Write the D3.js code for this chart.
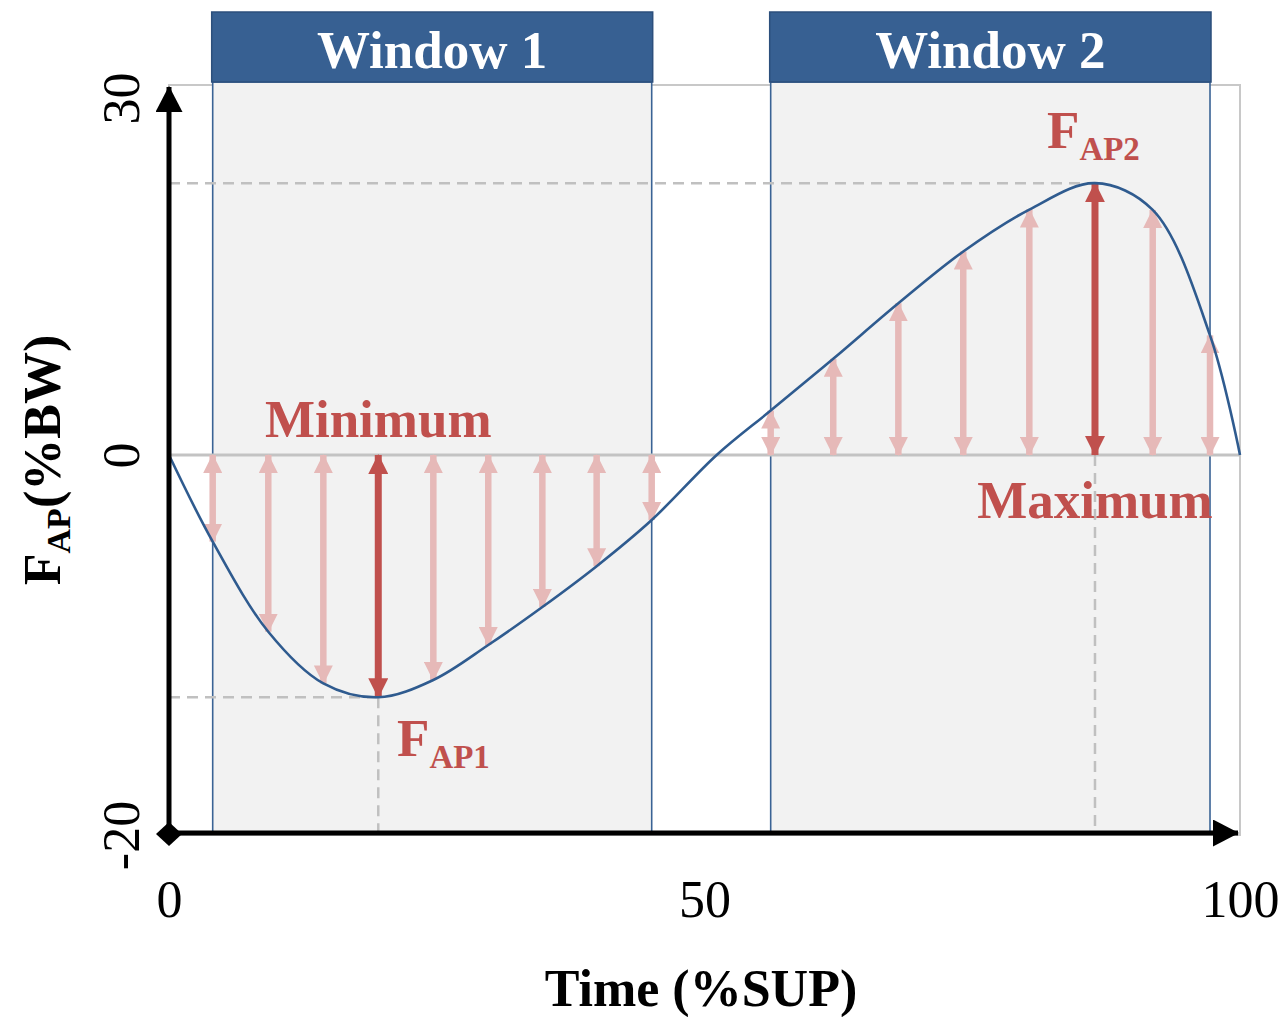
<!DOCTYPE html>
<html>
    <head>
        <meta charset="utf-8">
        <title>FAP windows</title>
        <script type="text/javascript" src="https://d3js.org/d3.v7.min.js"></script>
        <style>
            body {margin: 0; background: #fff;}
            text {font-family: "Liberation Serif", "Times New Roman", serif;}
        </style>
    </head>
    <body>
        <script>
            // courbe FAP (temps en %SUP, force en %BW)
            var curveTime = [0, 4.08, 9.27, 14.41, 19.54, 24.68, 29.81, 34.86, 39.93, 45.07, 51.14, 56.18, 62.02, 68.10, 74.16, 80.33, 86.46, 91.85, 97.2, 100];
            var curveForce = [0, -4.56, -9.3, -12.02, -12.75, -11.84, -10.0, -8.0, -5.85, -3.42, 0, 3.6, 7.8, 12.3, 16.5, 19.9, 22.04, 19.87, 9.7, 0];

            // fleches (indices dans la courbe) et fleches des pics
            var arrowIdx = [1, 2, 3, 4, 5, 6, 7, 8, 9, 11, 12, 13, 14, 15, 16, 17, 18];
            var peakIdx = [4, 16];

            var windowNames = ["Window 1", "Window 2"];
            var windowStart = [4.08, 56.18];
            var windowEnd = [45.07, 97.2];

            var xTicks = [0, 50, 100];
            var yTicks = [-20, 0, 30];

            var width = 1285, height = 1017;

            var svg = d3.select("body").append("svg")
                .attr("width", width)
                .attr("height", height);

            var x = d3.scaleLinear().domain([0, 100]).range([169, 1240]);
            // axe schematique : 0 -> -20 n'a pas la meme echelle que 0 -> 30
            var y = d3.scaleLinear().domain([-20, 0, 30]).range([835, 455, 85]);

            var defs = svg.append("defs");
            function marker(id, color, w, l) {
                defs.append("marker")
                    .attr("id", id)
                    .attr("markerUnits", "userSpaceOnUse")
                    .attr("viewBox", "0 0 " + l + " " + w)
                    .attr("refX", l - 1)
                    .attr("refY", w / 2)
                    .attr("markerWidth", l)
                    .attr("markerHeight", w)
                    .attr("orient", "auto-start-reverse")
                    .append("path")
                    .attr("d", "M0,0L" + l + "," + (w / 2) + "L0," + w + "Z")
                    .attr("fill", color);
            }
            marker("headLight", "#e6b9b8", 19, 19);
            marker("headDark", "#c0504d", 20, 20);
            marker("axisHead", "#000", 27, 26);

            // cadre gris
            svg.append("rect")
                .attr("x", x(0)).attr("y", y(30))
                .attr("width", x(100) - x(0)).attr("height", y(-20) - y(30))
                .attr("fill", "none")
                .attr("stroke", "#c8c8c8")
                .attr("stroke-width", 2);

            // fenetres
            windowNames.forEach(function(name, i) {
                var x0 = x(windowStart[i]), x1 = x(windowEnd[i]);
                svg.append("rect")
                    .attr("x", x0).attr("y", 82)
                    .attr("width", x1 - x0).attr("height", y(-20) - 3 - 82)
                    .attr("fill", "#f2f2f2")
                    .attr("stroke", "#3a6395")
                    .attr("stroke-width", 1.6);
                svg.append("rect")
                    .attr("x", x0 - 1).attr("y", 12)
                    .attr("width", x1 - x0 + 2).attr("height", 70)
                    .attr("fill", "#376092")
                    .attr("stroke", "#2c4f7c")
                    .attr("stroke-width", 1.5);
                svg.append("text")
                    .attr("x", (x0 + x1) / 2).attr("y", 68)
                    .attr("text-anchor", "middle")
                    .attr("fill", "#fff")
                    .attr("font-weight", "bold")
                    .attr("font-size", "53px")
                    .text(name);
            });

            // ligne zero
            svg.append("line")
                .attr("x1", x(0)).attr("x2", x(100))
                .attr("y1", y(0)).attr("y2", y(0))
                .attr("stroke", "#c3c3c3")
                .attr("stroke-width", 3);

            // pointilles
            var dash = svg.append("g")
                .attr("stroke", "#c0c0c0")
                .attr("stroke-width", 2.5)
                .attr("stroke-dasharray", "11,7")
                .attr("fill", "none");
            peakIdx.forEach(function(k) {
                var px = x(curveTime[k]), py = y(curveForce[k]);
                dash.append("line").attr("x1", x(0)).attr("x2", px).attr("y1", py).attr("y2", py);
                dash.append("line").attr("x1", px).attr("x2", px)
                    .attr("y1", curveForce[k] < 0 ? py : y(0)).attr("y2", y(-20) - 4);
            });

            // fleches
            arrowIdx.forEach(function(k) {
                var peak = peakIdx.indexOf(k) >= 0;
                var head = peak ? "url(#headDark)" : "url(#headLight)";
                svg.append("line")
                    .attr("x1", x(curveTime[k])).attr("x2", x(curveTime[k]))
                    .attr("y1", y(0)).attr("y2", y(curveForce[k]))
                    .attr("stroke", peak ? "#c0504d" : "#e6b9b8")
                    .attr("stroke-width", peak ? 7 : 6.5)
                    .attr("marker-start", head)
                    .attr("marker-end", head);
            });

            // courbe
            var line = d3.line()
                .x(function(d, i) { return x(curveTime[i]); })
                .y(function(d) { return y(d); })
                .curve(d3.curveCatmullRom.alpha(0.5));
            svg.append("path")
                .attr("d", line(curveForce))
                .attr("fill", "none")
                .attr("stroke", "#2f5b8f")
                .attr("stroke-width", 2.6);

            // axes
            svg.append("line")
                .attr("x1", x(0)).attr("x2", x(0))
                .attr("y1", y(-20)).attr("y2", y(30) + 2)
                .attr("stroke", "#000").attr("stroke-width", 5)
                .attr("marker-end", "url(#axisHead)");
            svg.append("line")
                .attr("x1", x(0)).attr("x2", x(100) - 2)
                .attr("y1", y(-20) - 2).attr("y2", y(-20) - 2)
                .attr("stroke", "#000").attr("stroke-width", 5)
                .attr("marker-end", "url(#axisHead)");
            svg.append("path")
                .attr("transform", "translate(" + x(0) + "," + (y(-20) - 1) + ")")
                .attr("d", "M-13,0L0,-12L13,0L0,12Z")
                .attr("fill", "#000");

            var xAxis = d3.axisBottom(x).tickValues(xTicks).tickSize(0).tickPadding(0)
                .tickFormat(function(d) { return String(d); });
            var gx = svg.append("g")
                .attr("transform", "translate(0,917)")
                .call(xAxis);
            gx.select(".domain").remove();
            gx.selectAll("text")
                .attr("dy", 0)
                .attr("y", 0)
                .attr("font-size", "52px")
                .attr("font-family", "Liberation Serif")
                .attr("fill", "#000");

            var yAxis = d3.axisLeft(y).tickValues(yTicks).tickSize(0).tickPadding(0)
                .tickFormat(function(d) { return String(d); });
            var gy = svg.append("g")
                .attr("transform", "translate(139,0)")
                .call(yAxis);
            gy.select(".domain").remove();
            gy.selectAll(".tick text")
                .attr("x", 0).attr("dy", 0)
                .attr("transform", function(d) { return "rotate(-90)" + (d === 30 ? " translate(-13,0)" : ""); })
                .attr("text-anchor", "middle")
                .attr("font-size", "52px")
                .attr("font-family", "Liberation Serif")
                .attr("fill", "#000");

            // titres
            svg.append("text")
                .attr("x", 701).attr("y", 1006)
                .attr("text-anchor", "middle")
                .attr("font-weight", "bold")
                .attr("font-size", "52px")
                .text("Time (%SUP)");

            var yt = svg.append("text")
                .attr("transform", "translate(60,460) rotate(-90)")
                .attr("text-anchor", "middle")
                .attr("font-weight", "bold")
                .attr("font-size", "52px");
            yt.append("tspan").text("F");
            yt.append("tspan").attr("font-size", "34px").attr("dy", 10).text("AP");
            yt.append("tspan").attr("dy", -10).text("(%BW)");

            // annotations
            var red = "#c0504d";
            svg.append("text")
                .attr("x", x(curveTime[4])).attr("y", 437)
                .attr("text-anchor", "middle").attr("font-weight", "bold")
                .attr("font-size", "53px").attr("fill", red)
                .text("Minimum");
            svg.append("text")
                .attr("x", x(curveTime[16])).attr("y", 518)
                .attr("text-anchor", "middle").attr("font-weight", "bold")
                .attr("font-size", "53px").attr("fill", red)
                .text("Maximum");

            function fap(px, py, sub) {
                var t = svg.append("text")
                    .attr("x", px).attr("y", py)
                    .attr("font-weight", "bold")
                    .attr("font-size", "53px").attr("fill", red);
                t.append("tspan").text("F");
                t.append("tspan").attr("font-size", "33px").attr("dy", 12).text(sub);
            }
            fap(397, 756, "AP1");
            fap(1047, 148, "AP2");
        </script>
    </body>
</html>
